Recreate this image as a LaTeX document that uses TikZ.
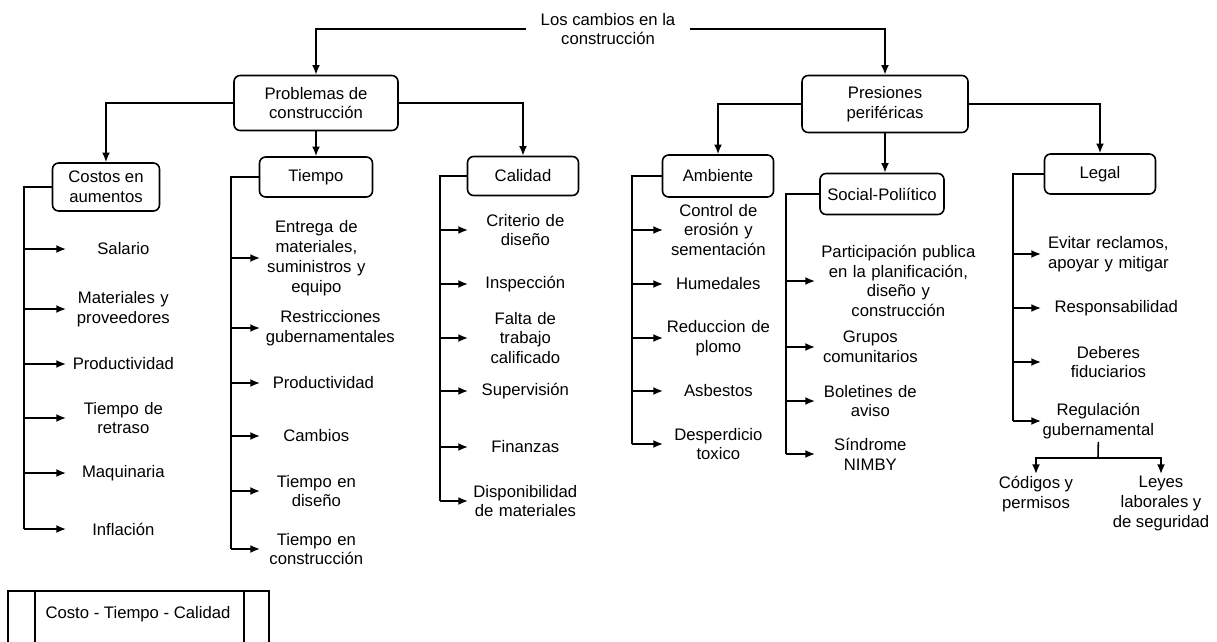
\documentclass[tikz,border=0pt]{standalone}
\usepackage{fontspec}
\setmainfont{Liberation Sans}
\usetikzlibrary{arrows.meta}

\begin{document}
\begin{tikzpicture}[x=0.02cm, y=-0.02cm,
    every node/.style={font=\fontsize{9.5}{11.3}\selectfont},
    caja/.style={draw, line width=0.9pt, rounded corners=3.5pt, align=center, inner sep=1pt},
    item/.style={anchor=west, align=center, inner xsep=0pt, inner ysep=1.5pt, text width=#1},
    linea/.style={line width=0.9pt},
    flecha/.style={line width=0.9pt, -{Latex[length=5.5pt,width=4.5pt]}}]
        \useasboundingbox (0,0) rectangle (1217,642);

        % Titulo
        \node[align=center, inner xsep=8pt, inner ysep=1pt] (raiz) at (608,29) {Los cambios en la\\construcción};

        % Ramas principales
        \node[caja, minimum width=3.28cm, minimum height=1.1cm] (prob) at (316,103) {Problemas de\\construcción};
        \node[caja, minimum width=3.32cm, minimum height=1.14cm] (pres) at (885,104) {Presiones\\periféricas};
        \draw[flecha] (raiz.west) -| (prob.north);
        \draw[flecha] (raiz.east) -| (pres.north);

        % Problemas de construccion
        \node[caja, minimum width=2.14cm, minimum height=0.96cm] (costos) at (106,187) {Costos en\\aumentos};
        \node[caja, minimum width=2.26cm, minimum height=0.8cm] (tiempo) at (316,177) {Tiempo};
        \node[caja, minimum width=2.22cm, minimum height=0.78cm] (calidad) at (523,176) {Calidad};
        \draw[flecha] (prob.west) -| (costos.north);
        \draw[flecha] (prob.south) -- (tiempo.north);
        \draw[flecha] (prob.east) -| (calidad.north);

        % Costos en aumentos
        \node[item=2.28cm] (c1) at (66,249) {Salario};
        \node[item=2.28cm] (c2) at (66,309) {Materiales y\\proveedores};
        \node[item=2.28cm] (c3) at (66,364) {Productividad};
        \node[item=2.28cm] (c4) at (66,418) {Tiempo de\\retraso};
        \node[item=2.28cm] (c5) at (66,473) {Maquinaria};
        \node[item=2.28cm] (c6) at (66,529) {Inflación};
        \draw[linea] (costos.west) -- ++(-28,0) coordinate (cs) -- (cs |- c6.west);
        \draw[flecha] (cs |- c1.west) -- (c1.west);
        \draw[flecha] (cs |- c2.west) -- (c2.west);
        \draw[flecha] (cs |- c3.west) -- (c3.west);
        \draw[flecha] (cs |- c4.west) -- (c4.west);
        \draw[flecha] (cs |- c5.west) -- (c5.west);
        \draw[flecha] (cs |- c6.west) -- (c6.west);

        % Tiempo
        \node[item=2.24cm] (t1) at (260,258) {Entrega de\\materiales,\\suministros y\\equipo};
        \node[item=2.8cm] (t2) at (260,328) {Restricciones\\gubernamentales};
        \node[item=2.52cm] (t3) at (260,383) {Productividad};
        \node[item=2.24cm] (t4) at (260,436) {Cambios};
        \node[item=2.24cm] (t5) at (260,491) {Tiempo en\\diseño};
        \node[item=2.24cm] (t6) at (260,549) {Tiempo en\\construcción};
        \draw[linea] (tiempo.west) -- ++(-28,0) coordinate (ts) -- (ts |- t6.west);
        \draw[flecha] (ts |- t1.west) -- (t1.west);
        \draw[flecha] (ts |- t2.west) -- (t2.west);
        \draw[flecha] (ts |- t3.west) -- (t3.west);
        \draw[flecha] (ts |- t4.west) -- (t4.west);
        \draw[flecha] (ts |- t5.west) -- (t5.west);
        \draw[flecha] (ts |- t6.west) -- (t6.west);

        % Calidad
        \node[item=2.28cm] (q1) at (468,230) {Criterio de\\diseño};
        \node[item=2.28cm] (q2) at (468,284) {Inspección};
        \node[item=2.28cm] (q3) at (468,338) {Falta de\\trabajo\\calificado};
        \node[item=2.28cm] (q4) at (468,391) {Supervisión};
        \node[item=2.28cm] (q5) at (468,447) {Finanzas};
        \node[item=2.28cm] (q6) at (468,501) {Disponibilidad\\de materiales};
        \draw[linea] (calidad.west) -- ++(-27,0) coordinate (qs) -- (qs |- q6.west);
        \draw[flecha] (qs |- q1.west) -- (q1.west);
        \draw[flecha] (qs |- q2.west) -- (q2.west);
        \draw[flecha] (qs |- q3.west) -- (q3.west);
        \draw[flecha] (qs |- q4.west) -- (q4.west);
        \draw[flecha] (qs |- q5.west) -- (q5.west);
        \draw[flecha] (qs |- q6.west) -- (q6.west);

        % Presiones perifericas
        \node[caja, minimum width=2.22cm, minimum height=0.84cm] (ambiente) at (718,176) {Ambiente};
        \node[caja, minimum width=2.48cm, minimum height=0.82cm] (social) at (882,194) {Social-Poliítico};
        \node[caja, minimum width=2.22cm, minimum height=0.8cm] (legal) at (1100,174) {Legal};
        \draw[flecha] (pres.west) -| (ambiente.north);
        \draw[flecha] (pres.south) -- (pres.south |- social.north);
        \draw[flecha] (pres.east) -| (legal.north);

        % Ambiente
        \node[item=2.2cm] (a1) at (663,230) {Control de\\erosión y\\sementación};
        \node[item=2.2cm] (a2) at (663,284) {Humedales};
        \node[item=2.2cm] (a3) at (663,338) {Reduccion de\\plomo};
        \node[item=2.2cm] (a4) at (663,391) {Asbestos};
        \node[item=2.2cm] (a5) at (663,444) {Desperdicio\\toxico};
        \draw[linea] (ambiente.west) -- ++(-30,0) coordinate (as) -- (as |- a5.west);
        \draw[flecha] (as |- a1.west) -- (a1.west);
        \draw[flecha] (as |- a2.west) -- (a2.west);
        \draw[flecha] (as |- a3.west) -- (a3.west);
        \draw[flecha] (as |- a4.west) -- (a4.west);
        \draw[flecha] (as |- a5.west) -- (a5.west);

        % Social-Politico
        \node[item=3.32cm] (s1) at (815,281) {Participación publica\\en la planificación,\\diseño y\\construcción};
        \node[item=2.2cm] (s2) at (815,347) {Grupos\\comunitarios};
        \node[item=2.2cm] (s3) at (815,401) {Boletines de\\aviso};
        \node[item=2.2cm] (s4) at (815,454) {Síndrome\\NIMBY};
        \draw[linea] (social.west) -- ++(-33,0) coordinate (ss) -- (ss |- s4.west);
        \draw[flecha] (ss |- s1.west) -- (s1.west);
        \draw[flecha] (ss |- s2.west) -- (s2.west);
        \draw[flecha] (ss |- s3.west) -- (s3.west);
        \draw[flecha] (ss |- s4.west) -- (s4.west);

        % Legal
        \node[item=2.68cm] (l1) at (1041,254) {Evitar reclamos,\\apoyar y mitigar};
        \node[item=3.0cm] (l2) at (1041,308) {Responsabilidad};
        \node[item=2.68cm] (l3) at (1041,362) {Deberes\\fiduciarios};
        \node[item=2.28cm] (l4) at (1041,421) {Regulación\\gubernamental};
        \draw[linea] (legal.west) -- ++(-31,0) coordinate (ls) -- (ls |- l4.west);
        \draw[flecha] (ls |- l1.west) -- (l1.west);
        \draw[flecha] (ls |- l2.west) -- (l2.west);
        \draw[flecha] (ls |- l3.west) -- (l3.west);
        \draw[flecha] (ls |- l4.west) -- (l4.west);

        % Regulacion gubernamental
        \coordinate (rj) at (1098,458);
        \node[align=center, anchor=north, inner sep=1pt] (cod) at (1036,474) {Códigos y\\permisos};
        \node[align=center, anchor=north, inner sep=1pt] (leyes) at (1161,474) {Leyes\\laborales y\\de seguridad};
        \draw[linea] (l4.south) -- (rj);
        \draw[flecha] (rj) -| (cod.north);
        \draw[flecha] (rj) -| (leyes.north);

        % Costo - Tiempo - Calidad
        \node[inner sep=0pt] (ctc) at (138,614) {Costo - Tiempo - Calidad};
        \draw[linea] (8,650) -- (8,591) -- (269,591) -- (269,650);
        \draw[linea] (35,591) -- (35,650);
        \draw[linea] (244,591) -- (244,650);
    \end{tikzpicture}
\end{document}
